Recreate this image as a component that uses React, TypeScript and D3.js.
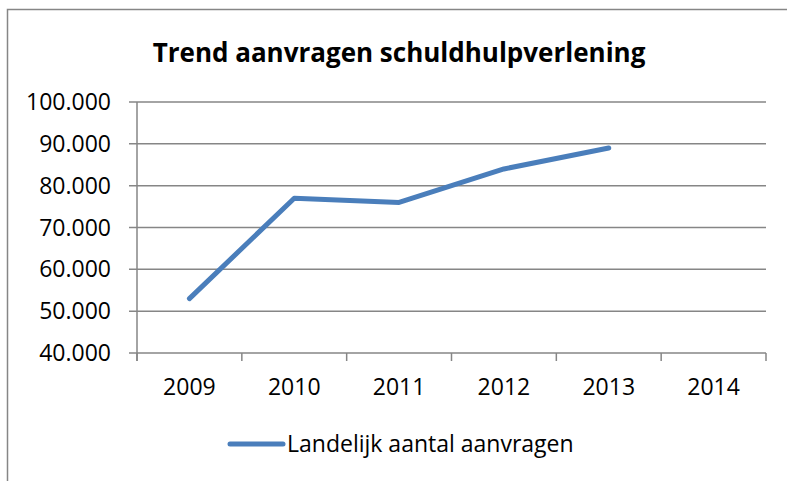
import * as d3 from 'd3';
import React, { useEffect, useRef } from 'react';

const years = ['2009', '2010', '2011', '2012', '2013', '2014'];
const aanvragen = [53000, 77000, 76000, 84000, 89000];
const yTicks = [40000, 50000, 60000, 70000, 80000, 90000, 100000];
const seriesName = 'Landelijk aantal aanvragen';
const title = 'Trend aanvragen schuldhulpverlening';

function App() {
    const ref = useRef<SVGSVGElement>(null);

    useEffect(() => {
        const svg = d3.select(ref.current);
        svg.selectAll('*').remove();

        const font = '"Open Sans", sans-serif';
        const grey = '#868686';
        const blue = '#4a7ebb';

        // chart frame
        svg.append('rect')
            .attr('x', 7.5).attr('y', 9.5)
            .attr('width', 790).attr('height', 480)
            .attr('fill', '#fff')
            .attr('stroke', grey)
            .attr('stroke-width', 1.5);

        const left = 137, right = 766, top = 102, bottom = 353;

        const x = d3.scaleBand().domain(years).range([left, right]);
        const y = d3.scaleLinear().domain([40000, 100000]).range([bottom, top]);

        svg.append('text')
            .attr('x', 399).attr('y', 62)
            .attr('text-anchor', 'middle')
            .style('font-family', font)
            .style('font-weight', 'bold')
            .style('font-size', '26px')
            .text(title);

        // gridlines
        svg.append('g')
            .selectAll('line')
            .data(yTicks)
            .join('line')
            .attr('x1', left - 8).attr('x2', right)
            .attr('y1', d => y(d)).attr('y2', d => y(d))
            .attr('stroke', grey)
            .attr('stroke-width', 1.5);

        // y axis line
        svg.append('line')
            .attr('x1', left).attr('x2', left)
            .attr('y1', top).attr('y2', bottom + 8)
            .attr('stroke', grey).attr('stroke-width', 1.5);

        const fmt = d3.formatLocale({ decimal: ',', thousands: '.', grouping: [3], currency: ['€', ''] }).format(',');

        svg.append('g')
            .selectAll('text')
            .data(yTicks)
            .join('text')
            .attr('x', 111)
            .attr('y', d => y(d) + 8)
            .attr('text-anchor', 'end')
            .style('font-family', font)
            .style('font-size', '23px')
            .text(d => fmt(d));

        // category tick marks at band edges
        const edges = years.map(d => x(d) as number).concat([right]);
        svg.append('g')
            .selectAll('line')
            .data(edges)
            .join('line')
            .attr('x1', d => d).attr('x2', d => d)
            .attr('y1', bottom).attr('y2', bottom + 8)
            .attr('stroke', grey).attr('stroke-width', 1.5);

        svg.append('g')
            .selectAll('text')
            .data(years)
            .join('text')
            .attr('x', d => (x(d) as number) + x.bandwidth() / 2)
            .attr('y', 395)
            .attr('text-anchor', 'middle')
            .style('font-family', font)
            .style('font-size', '23px')
            .text(d => d);

        const line = d3.line<number>()
            .x((d, i) => (x(years[i]) as number) + x.bandwidth() / 2)
            .y(d => y(d));

        svg.append('path')
            .datum(aanvragen)
            .attr('d', line)
            .attr('fill', 'none')
            .attr('stroke', blue)
            .attr('stroke-width', 5)
            .attr('stroke-linecap', 'round')
            .attr('stroke-linejoin', 'round');

        // legend
        svg.append('line')
            .attr('x1', 230).attr('x2', 283)
            .attr('y1', 444).attr('y2', 444)
            .attr('stroke', blue).attr('stroke-width', 5)
            .attr('stroke-linecap', 'round');
        svg.append('text')
            .attr('x', 287).attr('y', 452)
            .style('font-family', font)
            .style('font-size', '23px')
            .text(seriesName);
    }, []);

    return (
        <svg ref={ref} width={787} height={481}
            style={{ position: 'absolute', left: 0, top: 0, background: '#fff' }} />
    );
}

export default App;
